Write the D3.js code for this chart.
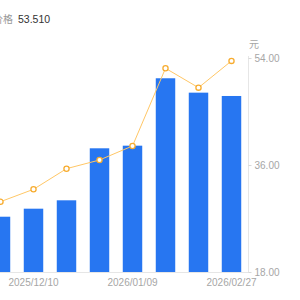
<!DOCTYPE html>
<html>
<head>
<meta charset="utf-8">
<script src="https://cdn.jsdelivr.net/npm/d3@7"></script>
<style>
  body { margin: 0; background: #fff; }
  svg { display: block; font-family: "Liberation Sans", "Noto Sans CJK SC", sans-serif; }
</style>
</head>
<body>
<svg id="chart" width="300" height="300"></svg>
<script>
// data
var dates = ['2025/11/27', '2025/12/10', '2025/12/19', '2025/12/31',
    '2026/01/09', '2026/01/21', '2026/02/06', '2026/02/27'];
var barValues = [27.3, 28.65, 30.06, 38.81, 39.25, 50.59, 48.17, 47.61];
var priceValues = [29.83, 31.91, 35.38, 36.84, 39.2, 52.27, 49.01, 53.51];
var tickValues = [18, 36, 54];
var shownDates = ['2025/12/10', '2026/01/09', '2026/02/27'];

var svg = d3.select('#chart');

var x = d3.scaleBand()
    .domain(dates)
    .range([-16, 248])
    .paddingInner(0.41)
    .paddingOuter(0.205);

var y = d3.scaleLinear()
    .domain([18, 54])
    .range([272, 58]);

// baseline
svg.append('line')
    .attr('x1', 0).attr('x2', 250)
    .attr('y1', 272.5).attr('y2', 272.5)
    .attr('stroke', '#e6e6e6');

// bars
svg.append('g').selectAll('rect')
    .data(barValues)
    .enter()
    .append('rect')
    .attr('x', function (d, i) { return x(dates[i]); })
    .attr('width', x.bandwidth())
    .attr('y', function (d) { return y(d); })
    .attr('height', function (d) { return y(18) - y(d); })
    .attr('fill', '#2776f1');

// price line
var cx = function (d, i) { return x(dates[i]) + x.bandwidth() / 2; };
var line = d3.line()
    .x(cx)
    .y(function (d) { return y(d); });

svg.append('path')
    .datum(priceValues)
    .attr('d', line)
    .attr('fill', 'none')
    .attr('stroke', '#ffc766')
    .attr('stroke-width', 1);

svg.append('g').selectAll('circle')
    .data(priceValues)
    .enter()
    .append('circle')
    .attr('cx', cx)
    .attr('cy', function (d) { return y(d); })
    .attr('r', 2.6)
    .attr('fill', '#fff')
    .attr('stroke', '#f7ac2f')
    .attr('stroke-width', 1.3);

// right axis
var axis = svg.append('g')
    .attr('transform', 'translate(248.5,0)')
    .call(d3.axisRight(y).tickValues(tickValues).tickSize(3).tickPadding(3)
        .tickFormat(d3.format('.2f')));
axis.select('.domain').attr('stroke', '#e6e6e6').attr('d', 'M0,56V272');
axis.selectAll('.tick line').attr('stroke', '#d9d9d9');
axis.selectAll('.tick text')
    .attr('fill', '#a6a6a6')
    .attr('font-size', 10);

svg.append('text')
    .attr('x', 249).attr('y', 48)
    .attr('font-size', 10)
    .attr('fill', '#a6a6a6')
    .text('元');

// date labels
svg.append('g').selectAll('text')
    .data(shownDates)
    .enter()
    .append('text')
    .attr('x', function (d) { return x(d) + x.bandwidth() / 2; })
    .attr('y', 286)
    .attr('text-anchor', 'middle')
    .attr('font-size', 10)
    .attr('fill', '#a6a6a6')
    .text(function (d) { return d; });

// title
svg.append('text')
    .attr('x', 13).attr('y', 23)
    .attr('text-anchor', 'end')
    .attr('font-size', 10)
    .attr('fill', '#999')
    .text('价格');
svg.append('text')
    .attr('x', 18).attr('y', 23)
    .attr('font-size', 10.5)
    .attr('fill', '#333')
    .text(d3.format('.3f')(priceValues[priceValues.length - 1]));
</script>
</body>
</html>
